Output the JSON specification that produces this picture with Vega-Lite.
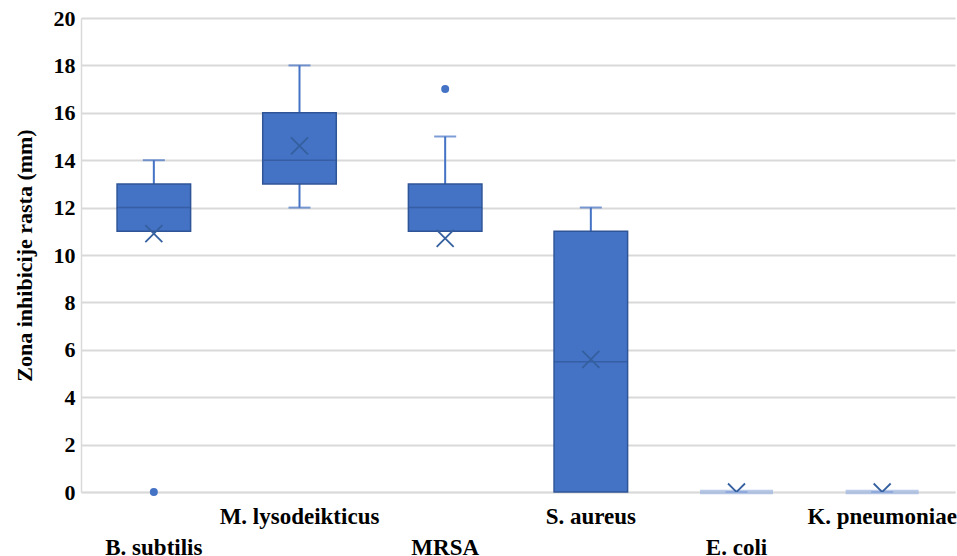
{
  "$schema": "https://vega.github.io/schema/vega-lite/v6.json",
  "width": 874,
  "height": 474,
  "autosize": {"type": "none"},
  "padding": {"left": 81, "top": 18, "right": 2, "bottom": 64},
  "background": "white",
  "config": {
    "view": {"stroke": null},
    "axis": {"labelFont": "Liberation Serif", "titleFont": "Liberation Serif"}
  },
  "datasets": {
    "boxes": [
      {"organism": "B. subtilis", "lower": 11, "q1": 11, "median": 12, "q3": 13, "upper": 14, "mean": 10.9},
      {"organism": "M. lysodeikticus", "lower": 12, "q1": 13, "median": 14, "q3": 16, "upper": 18, "mean": 14.6},
      {"organism": "MRSA", "lower": 11, "q1": 11, "median": 12, "q3": 13, "upper": 15, "mean": 10.7},
      {"organism": "S. aureus", "lower": 0, "q1": 0, "median": 5.5, "q3": 11, "upper": 12, "mean": 5.6},
      {"organism": "E. coli", "lower": 0, "q1": 0, "median": 0, "q3": 0, "upper": 0, "mean": 0},
      {"organism": "K. pneumoniae", "lower": 0, "q1": 0, "median": 0, "q3": 0, "upper": 0, "mean": 0}
    ],
    "outliers": [
      {"organism": "B. subtilis", "value": 0},
      {"organism": "MRSA", "value": 17}
    ]
  },
  "encoding": {
    "x": {
      "field": "organism",
      "type": "nominal",
      "sort": ["B. subtilis", "M. lysodeikticus", "MRSA", "S. aureus", "E. coli", "K. pneumoniae"],
      "scale": {"type": "band", "paddingInner": 0, "paddingOuter": 0},
      "axis": {
        "title": null,
        "labelAngle": 0,
        "labelFontSize": 23,
        "labelFontWeight": "bold",
        "labelColor": "#000000",
        "labelBaseline": "top",
        "labelOverlap": false,
        "labelLimit": 300,
        "ticks": false,
        "tickSize": 0,
        "domainColor": "#D9D9D9",
        "domainWidth": 1.5,
        "labelPadding": {
          "condition": {"test": "indexof(['B. subtilis','MRSA','E. coli'], datum.value) >= 0", "value": 44},
          "value": 13
        }
      }
    }
  },
  "layer": [
    {
      "data": {"name": "boxes"},
      "mark": {"type": "rule", "color": "#4472C4", "strokeWidth": 2},
      "encoding": {
        "y": {
          "field": "lower",
          "type": "quantitative",
          "scale": {"domain": [0, 20], "nice": false},
          "axis": {
            "title": "Zona inhibicije rasta (mm)",
            "titleFontSize": 22,
            "titleFontWeight": "bold",
            "titleColor": "#000000",
            "titlePadding": 17,
            "values": [0, 2, 4, 6, 8, 10, 12, 14, 16, 18, 20],
            "labelFontSize": 22,
            "labelFontWeight": "bold",
            "labelColor": "#000000",
            "labelPadding": 6,
            "ticks": false,
            "tickSize": 0,
            "grid": true,
            "gridColor": "#D9D9D9",
            "gridWidth": 1.8,
            "domainColor": "#D9D9D9",
            "domainWidth": 1.5
          }
        },
        "y2": {"field": "upper"}
      }
    },
    {
      "data": {"name": "boxes"},
      "mark": {"type": "tick", "color": "#4472C4", "size": 22, "thickness": 2},
      "encoding": {"y": {"field": "upper", "type": "quantitative"}}
    },
    {
      "data": {"name": "boxes"},
      "transform": [{"filter": "datum.lower < datum.q1"}],
      "mark": {"type": "tick", "color": "#4472C4", "size": 22, "thickness": 2},
      "encoding": {"y": {"field": "lower", "type": "quantitative"}}
    },
    {
      "data": {"name": "boxes"},
      "transform": [{"filter": "datum.q3 > datum.q1"}],
      "mark": {"type": "bar", "width": {"band": 0.505}, "fill": "#4472C4", "stroke": "#2F5597", "strokeWidth": 1.5},
      "encoding": {
        "y": {"field": "q1", "type": "quantitative"},
        "y2": {"field": "q3"}
      }
    },
    {
      "data": {"name": "boxes"},
      "transform": [{"filter": "datum.q3 > datum.q1"}],
      "mark": {"type": "tick", "color": "#2F5597", "size": 74, "thickness": 1.5},
      "encoding": {"y": {"field": "median", "type": "quantitative"}}
    },
    {
      "data": {"name": "boxes"},
      "transform": [{"filter": "datum.q3 == datum.q1"}],
      "mark": {"type": "tick", "color": "#9DB3DF", "size": 73, "thickness": 4.5},
      "encoding": {"y": {"field": "q1", "type": "quantitative"}}
    },
    {
      "data": {"name": "boxes"},
      "mark": {"type": "point", "clip": true, "shape": "M-1,-1L1,1M-1,1L1,-1", "filled": false, "stroke": "#35609F", "strokeWidth": 1.8, "size": 289, "opacity": 1},
      "encoding": {"y": {"field": "mean", "type": "quantitative"}}
    },
    {
      "data": {"name": "outliers"},
      "mark": {"type": "circle", "color": "#4472C4", "size": 64, "opacity": 1},
      "encoding": {"y": {"field": "value", "type": "quantitative"}}
    }
  ]
}
